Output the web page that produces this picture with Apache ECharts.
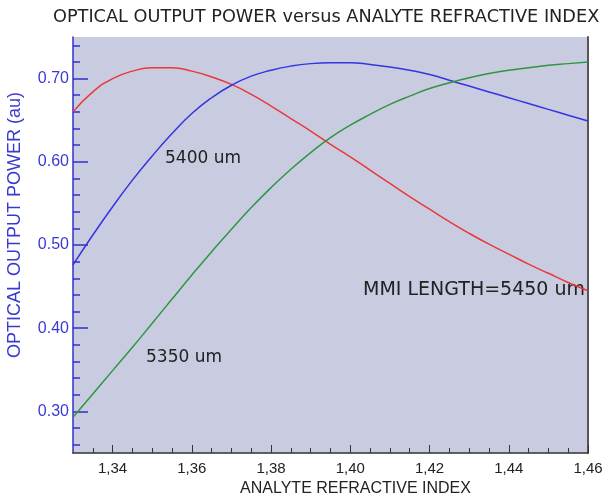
<!DOCTYPE html>
<html>
<head>
<meta charset="utf-8">
<script src="https://cdn.jsdelivr.net/npm/echarts@6/dist/echarts.min.js"></script>
<style>
  html, body { margin: 0; padding: 0; background: #fff; }
  #chart { width: 609px; height: 498px; }
</style>
</head>
<body>
<div id="chart"></div>
<script>
// analyte refractive index samples
const refractiveIndex = [
  1.330, 1.335, 1.340, 1.345, 1.350, 1.355, 1.360, 1.365, 1.370, 1.375,
  1.380, 1.385, 1.390, 1.395, 1.400, 1.405, 1.410, 1.415, 1.420, 1.425,
  1.430, 1.435, 1.440, 1.445, 1.450, 1.455, 1.460
]

// optical output power (au) per MMI length
const power5450 = [
  0.660, 0.684, 0.700, 0.709, 0.713, 0.713, 0.709, 0.702, 0.693, 0.681,
  0.667, 0.652, 0.637, 0.621, 0.606, 0.590, 0.574, 0.558, 0.543, 0.528,
  0.514, 0.501, 0.489, 0.477, 0.466, 0.455, 0.445
]
const power5400 = [
  0.476, 0.512, 0.546, 0.578, 0.607, 0.634, 0.658, 0.677, 0.692, 0.703,
  0.710, 0.715, 0.718, 0.719, 0.719, 0.717, 0.714, 0.710, 0.705, 0.698,
  0.691, 0.684, 0.677, 0.670, 0.663, 0.656, 0.649
]
const power5350 = [
  0.293, 0.321, 0.349, 0.377, 0.406, 0.435, 0.464, 0.492, 0.519, 0.545,
  0.569, 0.591, 0.611, 0.629, 0.644, 0.657, 0.669, 0.679, 0.688, 0.695,
  0.701, 0.706, 0.710, 0.713, 0.716, 0.718, 0.720
]

// tick positions
const xMajorTicks = [1.34, 1.36, 1.38, 1.40, 1.42, 1.44, 1.46]
const xMinorTicks = [
  1.335, 1.345, 1.35, 1.355, 1.365, 1.37, 1.375, 1.385, 1.39, 1.395,
  1.405, 1.41, 1.415, 1.425, 1.43, 1.435, 1.445, 1.45, 1.455
]
const yMajorTicks = [0.30, 0.40, 0.50, 0.60, 0.70]
const yMinorTicks = [
  0.26, 0.28, 0.32, 0.34, 0.36, 0.38, 0.42, 0.44, 0.46, 0.48,
  0.52, 0.54, 0.56, 0.58, 0.62, 0.64, 0.66, 0.68, 0.72, 0.74
]

const FONT = 'Liberation Sans'
const WIDE = 'DejaVu Sans'
const BLUE_TEXT = '#3a3ad0'
const DARK = '#222'

const zip = (xs, ys) => xs.map((x, i) => [x, ys[i]])

const chart = echarts.init(document.getElementById('chart'))

const xBase = { type: 'value', min: 1.33, max: 1.46, splitLine: { show: false } }
const yBase = { type: 'value', min: 0.25, max: 0.75, splitLine: { show: false } }

chart.setOption({
  animation: false,
  title: {
    text: 'OPTICAL OUTPUT POWER versus ANALYTE REFRACTIVE INDEX',
    left: 53,
    top: 8,
    padding: 0,
    textStyle: { fontFamily: WIDE, fontSize: 17.7, fontWeight: 'normal', color: DARK }
  },
  grid: {
    left: 73, right: 21, top: 37, bottom: 45,
    outerBoundsMode: 'none',
    containLabel: false,
    show: true, backgroundColor: '#c9cce1', borderWidth: 0
  },
  xAxis: [
    {
      ...xBase,
      name: 'ANALYTE REFRACTIVE INDEX',
      nameLocation: 'middle',
      nameGap: 26,
      nameTextStyle: { fontFamily: FONT, fontSize: 16, color: DARK, padding: [0, 0, 0, 50] },
      axisLine: { lineStyle: { color: '#333', width: 1.5 } },
      axisTick: { inside: true, length: 8, customValues: xMajorTicks, lineStyle: { color: '#333' } },
      axisLabel: {
        customValues: xMajorTicks,
        margin: 8,
        fontFamily: FONT, fontSize: 15, color: DARK,
        formatter: v => v.toFixed(2).replace('.', ',')
      }
    },
    {
      ...xBase,
      position: 'bottom',
      axisLine: { show: false },
      axisTick: { inside: true, length: 5, customValues: xMinorTicks, lineStyle: { color: '#333' } },
      axisLabel: { show: false }
    }
  ],
  yAxis: [
    {
      ...yBase,
      name: 'OPTICAL OUTPUT POWER (au)',
      nameLocation: 'middle',
      nameGap: 49,
      nameTextStyle: { fontFamily: FONT, fontSize: 18, color: BLUE_TEXT, padding: [0, 0, 0, 40] },
      axisLine: { show: true, lineStyle: { color: '#3030c8', width: 1.5 } },
      axisTick: { inside: true, length: 15, customValues: yMajorTicks, lineStyle: { color: '#3030c8', width: 1.5 } },
      axisLabel: {
        customValues: yMajorTicks,
        margin: 4,
        fontFamily: FONT, fontSize: 16, color: BLUE_TEXT,
        formatter: v => v.toFixed(2)
      }
    },
    {
      ...yBase,
      position: 'left',
      axisLine: { show: false },
      axisTick: { inside: true, length: 7, customValues: yMinorTicks, lineStyle: { color: '#3030c8', width: 1.5 } },
      axisLabel: { show: false }
    },
    {
      ...yBase,
      position: 'right',
      axisLine: { show: true, lineStyle: { color: '#555', width: 2 } },
      axisTick: { show: false },
      axisLabel: { show: false }
    }
  ],
  series: [
    {
      name: 'MMI LENGTH=5450 um',
      type: 'line',
      data: zip(refractiveIndex, power5450),
      smooth: true,
      showSymbol: false,
      lineStyle: { color: '#e8383a', width: 1.5 }
    },
    {
      name: '5400 um',
      type: 'line',
      data: zip(refractiveIndex, power5400),
      smooth: true,
      showSymbol: false,
      lineStyle: { color: '#3434e0', width: 1.5 }
    },
    {
      name: '5350 um',
      type: 'line',
      data: zip(refractiveIndex, power5350),
      smooth: true,
      showSymbol: false,
      lineStyle: { color: '#2e9640', width: 1.5 }
    }
  ],
  graphic: [
    { type: 'text', left: 165, top: 150, style: { text: '5400 um', fontFamily: WIDE, fontSize: 17, fill: DARK } },
    { type: 'text', left: 146, top: 349, style: { text: '5350 um', fontFamily: WIDE, fontSize: 17, fill: DARK } },
    { type: 'text', left: 363, top: 281, style: { text: 'MMI LENGTH=5450 um', fontFamily: WIDE, fontSize: 19, fill: DARK } }
  ]
})
</script>
</body>
</html>
